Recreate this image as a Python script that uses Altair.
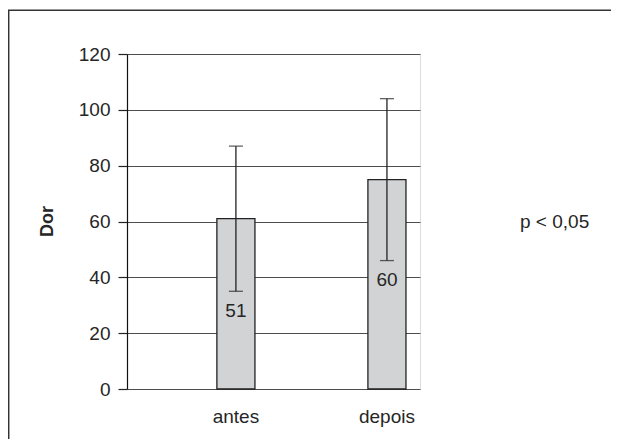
import altair as alt
import pandas as pd

categories = ["antes", "depois"]
means = [61, 75]
err_low = [35, 46]
err_high = [87, 104]
labels = ["51", "60"]
label_pos = [28, 39]
p_text = "p < 0,05"
p_y = 60
y_ticks = [0, 20, 40, 60, 80, 100, 120]

FONT = "Liberation Sans, Arial, sans-serif"
TXT = "#262626"
FS = 19

df = pd.DataFrame({
    "cat": categories, "mean": means, "lo": err_low, "hi": err_high,
    "lab": labels, "lab_y": label_pos,
})

xscale = alt.Scale(domain=categories, paddingInner=0.748, paddingOuter=0.344, align=0.865)
yscale = alt.Scale(domain=[0, 120], nice=False)

x = alt.X("cat:N", scale=xscale, sort=categories, title=None,
          axis=alt.Axis(labelAngle=0, domain=False, ticks=False, labelPadding=18,
                        labelFontSize=FS, labelFont=FONT, labelColor=TXT))
y_axis = alt.Axis(values=y_ticks, grid=True, gridColor="#4d4d4d", gridWidth=1.2,
                  domainColor="#111111", domainWidth=1.2, tickColor="#222222", tickSize=9,
                  tickWidth=1.2, labelPadding=8, labelFontSize=FS, labelFont=FONT,
                  labelColor=TXT, title="Dor", titleFont=FONT, titleFontSize=18,
                  titleFontWeight="bold", titleColor=TXT, titleX=-80, titleY=167,
                  titleAlign="center", titleBaseline="middle", titleAngle=270)

base = alt.Chart(df)

bars = base.mark_bar(color="#d2d3d5", stroke="#222222", strokeWidth=1.3).encode(
    x=x, y=alt.Y("mean:Q", scale=yscale, axis=y_axis))

rules = base.mark_rule(color="#222222", strokeWidth=1.3).encode(
    x=alt.X("cat:N", scale=xscale, sort=categories), y=alt.Y("lo:Q", scale=yscale), y2="hi:Q")

caps_hi = base.mark_tick(color="#222222", size=14, thickness=1.3, orient="horizontal").encode(
    x=alt.X("cat:N", scale=xscale, sort=categories), y=alt.Y("hi:Q", scale=yscale))
caps_lo = base.mark_tick(color="#222222", size=14, thickness=1.3, orient="horizontal").encode(
    x=alt.X("cat:N", scale=xscale, sort=categories), y=alt.Y("lo:Q", scale=yscale))

texts = base.mark_text(font=FONT, fontSize=FS, color=TXT, baseline="middle").encode(
    x=alt.X("cat:N", scale=xscale, sort=categories), y=alt.Y("lab_y:Q", scale=yscale), text="lab:N")

ptext = alt.Chart(pd.DataFrame({"t": [p_text], "y": [p_y]})).mark_text(
    font=FONT, fontSize=FS, color=TXT, align="left", baseline="middle").encode(
    x=alt.value(393), y=alt.Y("y:Q", scale=yscale), text="t:N")

# decorative page frame (left and top edges only), drawn as one open path
frame_data = pd.DataFrame({"fx": [-118.3, -118.3, 484], "fy": [385, -43.8, -43.8], "k": [0, 1, 2]})
frame = alt.Chart(frame_data).mark_line(color="#333333", strokeWidth=1.5).encode(
    x=alt.X("fx:Q", scale=None, axis=None),
    y=alt.Y("fy:Q", scale=None, axis=None),
    order="k:Q")

main = alt.layer(bars, rules, caps_hi, caps_lo, texts, ptext)

chart = alt.layer(frame, main).resolve_scale(x="independent", y="independent").properties(
    width=293, height=335,
    autosize=alt.AutoSizeParams(type="none"),
    padding={"left": 119, "top": 46, "right": 191, "bottom": 50},
).configure_view(stroke=None).configure(background="white")

chart.save("out.html", embed_options={"renderer": "svg", "actions": False})
